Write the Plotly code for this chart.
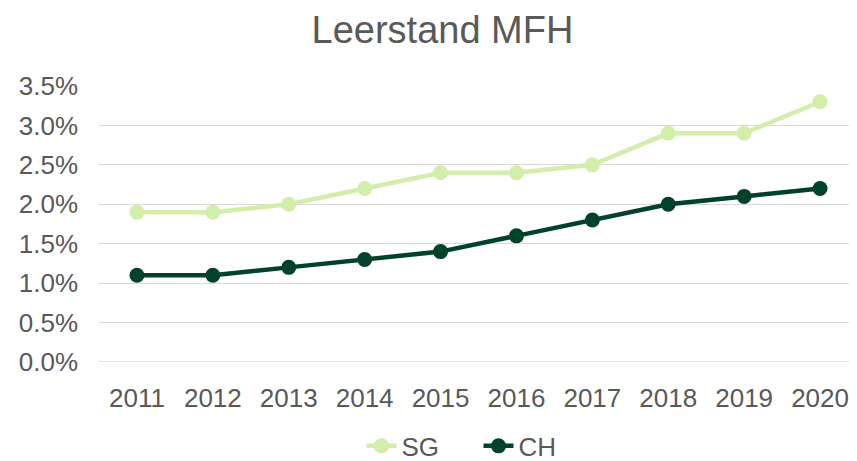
import plotly.graph_objects as go

years = ["2011", "2012", "2013", "2014", "2015", "2016", "2017", "2018", "2019", "2020"]
sg = [1.9, 1.9, 2.0, 2.2, 2.4, 2.4, 2.5, 2.9, 2.9, 3.3]
ch = [1.1, 1.1, 1.2, 1.3, 1.4, 1.6, 1.8, 2.0, 2.1, 2.2]
y_ticks = [0, 0.5, 1.0, 1.5, 2.0, 2.5, 3.0, 3.5]
y_labels = ["0.0%", "0.5%", "1.0%", "1.5%", "2.0%", "2.5%", "3.0%", "3.5%"]

fig = go.Figure()
fig.add_trace(go.Scatter(x=years, y=sg, name="SG", mode="lines+markers",
                         line=dict(color="#d3edab", width=4.5),
                         marker=dict(color="#d3edab", size=15)))
fig.add_trace(go.Scatter(x=years, y=ch, name="CH", mode="lines+markers",
                         line=dict(color="#00432a", width=4.5),
                         marker=dict(color="#00432a", size=15)))

fig.update_layout(
    width=857, height=461,
    paper_bgcolor="white", plot_bgcolor="white",
    font=dict(family="Liberation Sans, Arial", color="#595959", size=26),
    title=dict(text="Leerstand MFH", x=0.507, xanchor="center", y=0.952, yanchor="middle",
               font=dict(size=38, color="#595959")),
    margin=dict(l=91, r=7, t=78, b=107),
    xaxis=dict(type="category", range=[-0.5, 9.5], showgrid=False, showline=False, ticks="",
               ticklabelstandoff=18, tickfont=dict(size=26, color="#595959")),
    yaxis=dict(range=[0, 3.5], tickvals=y_ticks, ticktext=y_labels,
               showgrid=True, gridcolor="#d9d9d9", gridwidth=1.3, zeroline=False,
               showline=False, ticks="", ticklabelstandoff=20,
               tickfont=dict(size=26, color="#595959")),
    legend=dict(orientation="h", x=0.549, xref="container", xanchor="center",
                y=0.05, yref="container", yanchor="middle", entrywidth=72,
                font=dict(size=26, color="#595959")),
    showlegend=True,
)
fig.add_shape(type="line", xref="paper", yref="y", x0=0, x1=1, y0=0, y1=0,
              line=dict(color="#d9d9d9", width=1.3), layer="below")

fig.write_html("out.html")
